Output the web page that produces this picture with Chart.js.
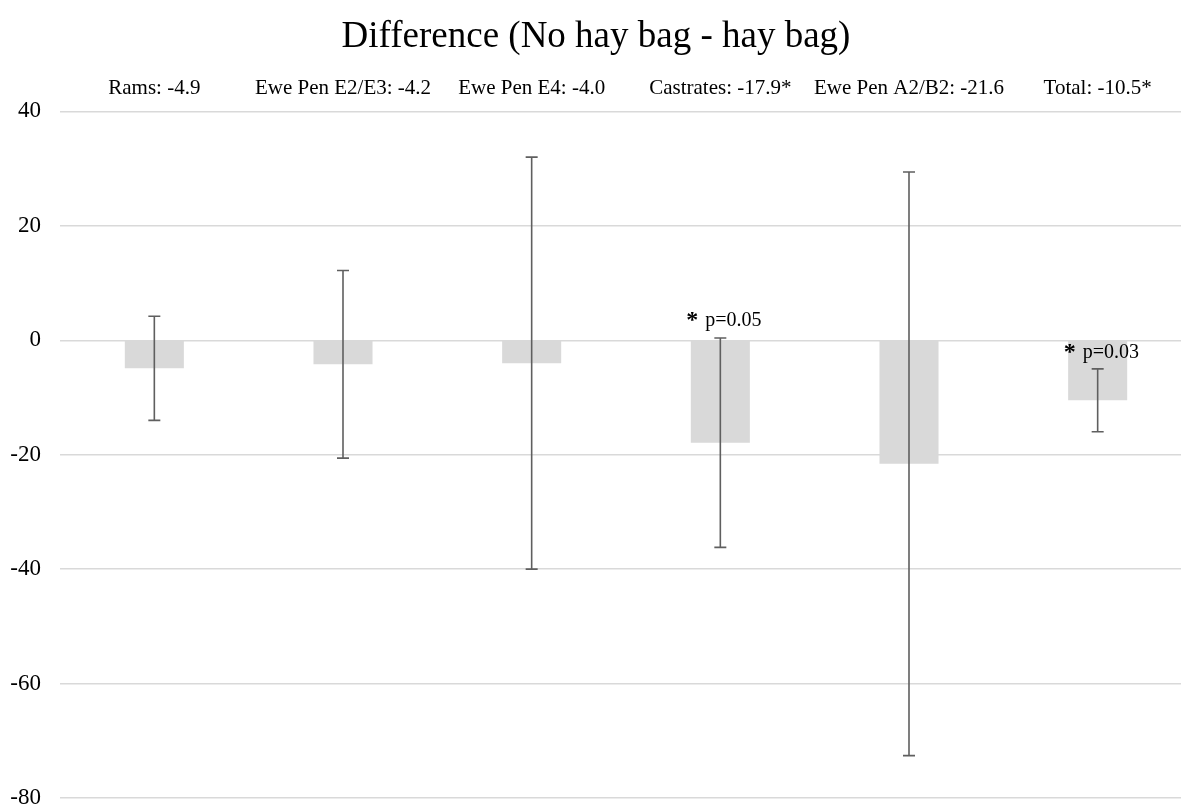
<!DOCTYPE html>
<html>
<head>
<meta charset="utf-8">
<script src="https://cdn.jsdelivr.net/npm/chart.js@4"></script>
<style>
    html, body { margin: 0; padding: 0; background: #fff; overflow: hidden; }
    #wrap { width: 1192px; height: 809px; }
</style>
</head>
<body>
<div id="wrap"><canvas id="grafikSelisih" width="1192" height="809"></canvas></div>
<script>
// data
const kategori = ['Rams: -4.9', 'Ewe Pen E2/E3: -4.2', 'Ewe Pen E4: -4.0', 'Castrates: -17.9*', 'Ewe Pen A2/B2: -21.6', 'Total: -10.5*'];
const selisih = [-4.9, -4.2, -4.0, -17.9, -21.6, -10.5];
const galat = [9.1, 16.4, 36.0, 18.3, 51.0, 5.5];
const teksP = ['', '', '', 'p=0.05', '', 'p=0.03'];
const posisiP = [null, null, null, 2.5, null, -3.1];
const tickY = [40, 20, 0, -20, -40, -60, -80];

const fontSerif = '"Liberation Serif", "Times New Roman", serif';

const pluginGalat = {
    id: 'galat',
    afterDatasetsDraw: function (chart) {
        const ctx = chart.ctx;
        const meta = chart.getDatasetMeta(0);
        const y = chart.scales.y;
        ctx.save();
        ctx.strokeStyle = '#5f5f5f';
        ctx.lineWidth = 1.6;
        meta.data.forEach(function (bar, i) {
            let x = bar.x;
            let atas = y.getPixelForValue(selisih[i] + galat[i]);
            let bawah = y.getPixelForValue(selisih[i] - galat[i]);
            ctx.beginPath();
            ctx.moveTo(x, atas);
            ctx.lineTo(x, bawah);
            ctx.moveTo(x - 6, atas);
            ctx.lineTo(x + 6, atas);
            ctx.moveTo(x - 6, bawah);
            ctx.lineTo(x + 6, bawah);
            ctx.stroke();
        });

        // significance notes
        ctx.fillStyle = '#000';
        ctx.textBaseline = 'alphabetic';
        meta.data.forEach(function (bar, i) {
            if (!teksP[i]) {
                return;
            }
            let x = bar.x;
            let yy = y.getPixelForValue(posisiP[i]);
            ctx.font = 'bold 24px ' + fontSerif;
            ctx.textAlign = 'center';
            ctx.fillText('*', x - 28, yy + 1);
            ctx.font = '20px ' + fontSerif;
            ctx.textAlign = 'left';
            ctx.fillText(teksP[i], x - 15, yy);
        });
        ctx.restore();
    }
};

new Chart('grafikSelisih', {
    type: 'bar',
    data: {
        labels: kategori,
        datasets: [{
            data: selisih,
            backgroundColor: '#d9d9d9',
            borderWidth: 0,
            categoryPercentage: 1,
            barPercentage: 0.313
        }]
    },
    options: {
        responsive: false,
        animation: false,
        layout: {
            padding: { left: 0, right: 0, top: 0, bottom: 11 }
        },
        plugins: {
            legend: { display: false },
            tooltip: { enabled: false },
            title: {
                display: true,
                text: 'Difference (No hay bag - hay bag)',
                color: '#000',
                font: { family: fontSerif, size: 37, weight: 'normal' },
                padding: { top: 15, bottom: 0 }
            }
        },
        scales: {
            x: {
                position: 'top',
                grid: { display: false },
                border: { display: false },
                ticks: {
                    color: '#000',
                    font: { family: fontSerif, size: 21 },
                    padding: 2,
                    maxRotation: 0,
                    autoSkip: false
                },
                afterFit: function (scale) {
                    scale.height = 52;
                }
            },
            y: {
                min: -80,
                max: 40,
                afterBuildTicks: function (scale) {
                    scale.ticks = tickY.map(function (v) { return { value: v }; });
                },
                grid: {
                    color: '#d9d9d9',
                    lineWidth: 1.5,
                    drawTicks: false
                },
                border: { display: false },
                ticks: {
                    color: '#000',
                    font: { family: fontSerif, size: 23 },
                    padding: 19
                },
                afterFit: function (scale) {
                    scale.width = 60;
                    scale.paddingTop = 0;
                    scale.paddingBottom = 0;
                }
            }
        }
    },
    plugins: [pluginGalat]
});
</script>
</body>
</html>
